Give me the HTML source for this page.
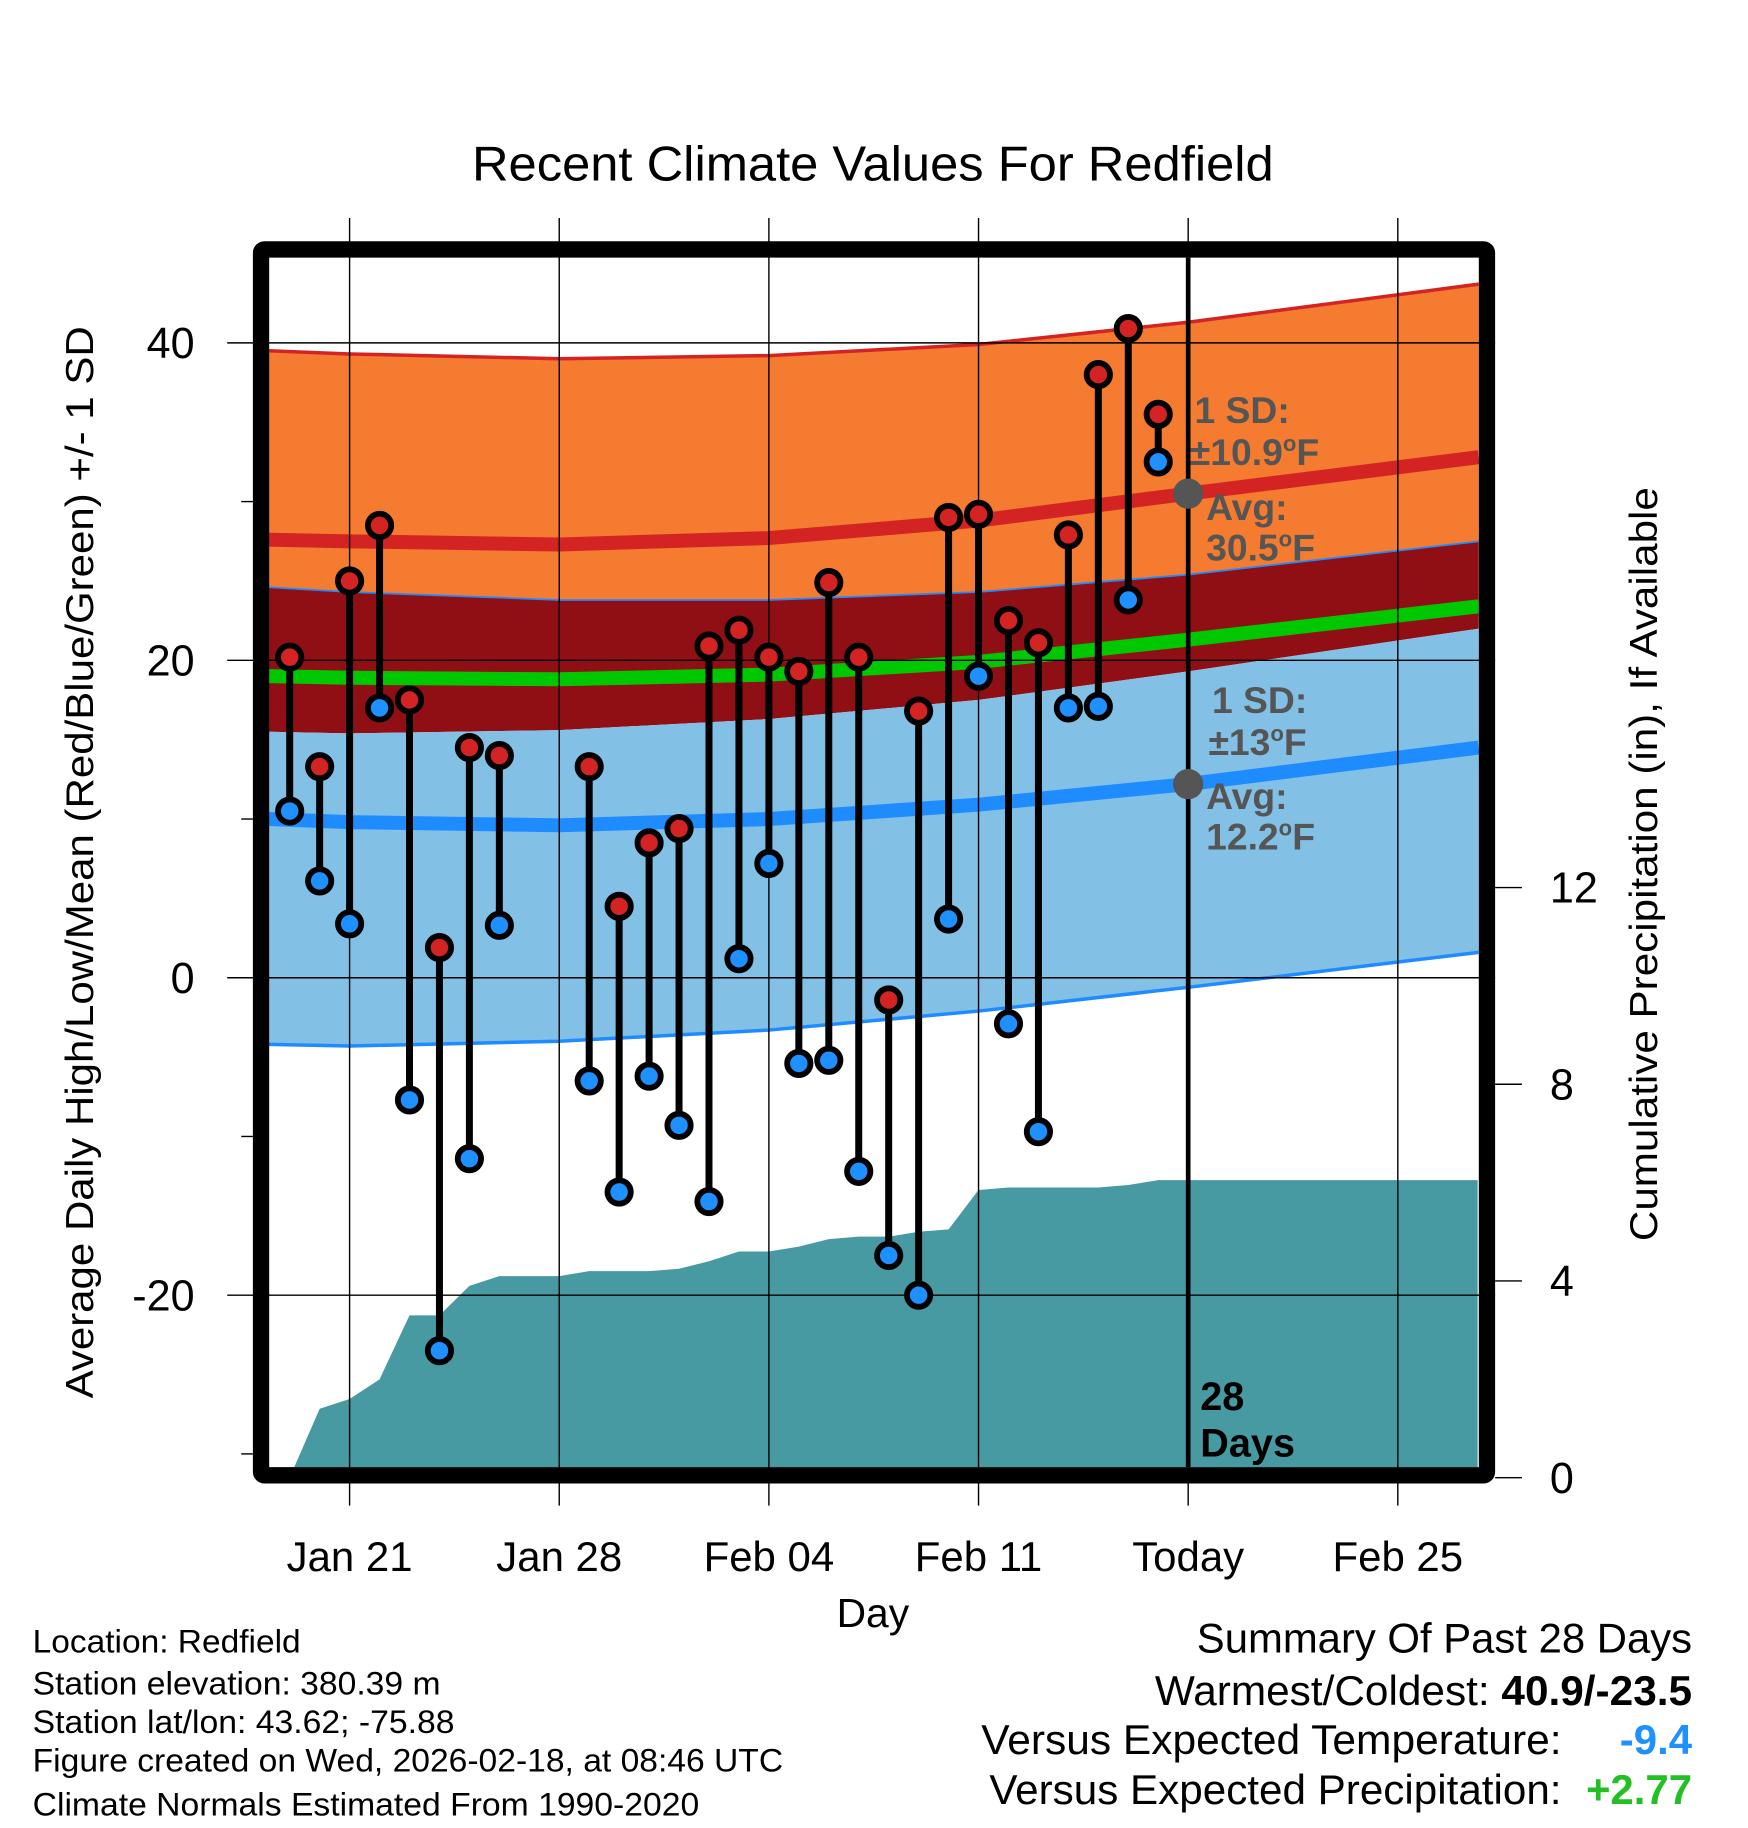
<!DOCTYPE html>
<html><head><meta charset="utf-8"><style>
html,body{margin:0;padding:0;background:#fff}
svg{display:block;font-family:"Liberation Sans",Arial,sans-serif}
</style></head><body>
<svg id="c" width="1748" height="1828" viewBox="0 0 1500 1568.6" xmlns="http://www.w3.org/2000/svg">
<text x="405" y="155" font-size="42" textLength="688" lengthAdjust="spacingAndGlyphs">Recent Climate Values For Redfield</text>
<g id="plot"></g>
<text transform="translate(80,1200) rotate(-90)" font-size="33" textLength="920" lengthAdjust="spacingAndGlyphs">Average Daily High/Low/Mean (Red/Blue/Green) +/- 1 SD</text>
<text transform="translate(1422,1065) rotate(-90)" font-size="33" textLength="647" lengthAdjust="spacingAndGlyphs">Cumulative Precipitation (in), If Available</text>
<text x="749" y="1396" font-size="35" text-anchor="middle">Day</text>
<g font-size="28" lengthAdjust="spacingAndGlyphs">
<text x="28" y="1418" textLength="230" lengthAdjust="spacingAndGlyphs">Location: Redfield</text>
<text x="28" y="1454" textLength="350" lengthAdjust="spacingAndGlyphs">Station elevation: 380.39 m</text>
<text x="28" y="1487" textLength="362" lengthAdjust="spacingAndGlyphs">Station lat/lon: 43.62; -75.88</text>
<text x="28" y="1520" textLength="644" lengthAdjust="spacingAndGlyphs">Figure created on Wed, 2026-02-18, at 08:46 UTC</text>
<text x="28" y="1558" textLength="572" lengthAdjust="spacingAndGlyphs">Climate Normals Estimated From 1990-2020</text>
</g>
<g font-size="36">
<text x="1027" y="1418" textLength="425" lengthAdjust="spacingAndGlyphs">Summary Of Past 28 Days</text>
<text x="991" y="1463" textLength="461" lengthAdjust="spacingAndGlyphs">Warmest/Coldest: <tspan font-weight="bold">40.9/-23.5</tspan></text>
<text x="842" y="1505" textLength="498" lengthAdjust="spacingAndGlyphs">Versus Expected Temperature:</text>
<text x="1452" y="1505" text-anchor="end" fill="#1e90ff" font-weight="bold">-9.4</text>
<text x="849" y="1548" textLength="491" lengthAdjust="spacingAndGlyphs">Versus Expected Precipitation:</text>
<text x="1452" y="1548" text-anchor="end" fill="#22c022" font-weight="bold">+2.77</text>
</g>
</svg>
<script>
const days=[-2,-1,0,1,2,3,4,5,8,9,10,11,12,13,14,15,16,17,18,19,20,21,22,23,24,25,26,27];
const highs=[20.2,13.3,25,28.5,17.5,1.9,14.5,14,13.3,4.5,8.5,9.4,20.9,21.9,20.2,19.3,24.9,20.2,-1.4,16.8,29,29.2,22.5,21.1,27.9,38,40.9,35.5];
const lows=[10.5,6.1,3.4,17,-7.7,-23.5,-11.4,3.3,-6.5,-13.5,-6.2,-9.3,-14.1,1.2,7.2,-5.4,-5.2,-12.2,-17.5,-20,3.7,19,-2.9,-9.7,17,17.1,23.8,32.5];
const pDays=[-2,-1,0,1,2,3,4,5,6,7,8,9,10,11,12,13,14,15,16,17,18,19,20,21,22,23,24,25,26,27,37.7];
const precip=[0,1.4,1.6,2.0,3.3,3.3,3.9,4.1,4.1,4.1,4.2,4.2,4.2,4.25,4.4,4.6,4.6,4.7,4.85,4.9,4.9,5.0,5.05,5.85,5.9,5.9,5.9,5.9,5.95,6.05,6.05];
const nDays=[-2.7,0,7,14,21,28,37.7];
const nTop=[39.5,39.3,39.0,39.2,39.9,41.3,43.7];
const nAvgHi=[27.6,27.5,27.3,27.7,28.8,30.5,32.8];
const nHiLow=[24.6,24.3,23.8,23.8,24.3,25.4,27.5];
const nMean=[19.0,18.9,18.8,19.1,19.9,21.3,23.4];
const nLoTop=[15.5,15.4,15.6,16.3,17.5,19.3,22.0];
const nAvgLo=[10.0,9.8,9.6,10.0,10.9,12.2,14.5];
const nBottom=[-4.2,-4.3,-4.0,-3.3,-2.1,-0.6,1.6];
const xTickDays=[0,7,14,21,28,35];
const xTickLabels=["Jan 21","Jan 28","Feb 04","Feb 11","Today","Feb 25"];
const yTicks=[40,20,0,-20];
const yMinor=[30,10,-10,-30];
const y2Ticks=[0,4,8,12];

const X=d=>300+25.7*d;
const Y=v=>839-13.62*v;
const Y2=p=>1268-42.2*p;
const NS="http://www.w3.org/2000/svg";
const g=document.getElementById('plot');
function mk(t,a,parent){const e=document.createElementNS(NS,t);for(const k in a)e.setAttribute(k,a[k]);(parent||g).appendChild(e);return e;}
const line=(arr)=>nDays.map((d,i)=>X(d).toFixed(1)+','+Y(arr[i]).toFixed(1));
function band(a,b){return 'M'+line(a).join('L')+'L'+line(b).reverse().join('L')+'Z';}

let e;
e=mk('rect',{x:231,y:221,width:1037,height:1038,fill:'#fff'});


e=mk('path',{d:band(nTop,nHiLow),fill:'#f47b2f'});


e=mk('path',{d:band(nHiLow,nLoTop),fill:'#8f0f15'});


e=mk('path',{d:band(nLoTop,nBottom),fill:'#82c0e6'});


e=mk('polyline',{points:line(nTop).join(' '),fill:'none',stroke:'#d42323','stroke-width':3});


e=mk('polyline',{points:line(nHiLow).join(' '),fill:'none',stroke:'#1e8cff','stroke-width':1.5});


e=mk('polyline',{points:line(nBottom).join(' '),fill:'none',stroke:'#1e8cff','stroke-width':3});


e=mk('polyline',{points:line(nAvgHi).join(' '),fill:'none',stroke:'#d42323','stroke-width':12});


e=mk('polyline',{points:line(nMean).join(' '),fill:'none',stroke:'#00c800','stroke-width':12});


e=mk('polyline',{points:line(nAvgLo).join(' '),fill:'none',stroke:'#1e8cff','stroke-width':12});


// precipitation
let pd='M'+X(pDays[0])+','+Y2(0);
pDays.forEach((d,i)=>{pd+='L'+Math.min(X(d),1268).toFixed(1)+','+Y2(precip[i]).toFixed(1);});
pd+='L1268,1259L'+X(pDays[0])+',1259Z';
e=mk('path',{d:pd,fill:'#4799a2'});


// grid
xTickDays.forEach((d,i)=>{
  e=mk('line',{x1:X(d),x2:X(d),y1:187,y2:1292,stroke:'#000','stroke-width':1.2});
  
  
  e=mk('text',{x:X(d),y:1348,'font-size':36,'text-anchor':'middle'});
  e.textContent=xTickLabels[i];
  
  
});
yTicks.forEach(v=>{
  e=mk('line',{x1:195,x2:1283,y1:Y(v),y2:Y(v),stroke:'#000','stroke-width':1.2});
  
  
  e=mk('text',{x:167,y:Y(v)+13,'font-size':37,'text-anchor':'end'});
  e.textContent=v;
  
  
});
yMinor.forEach(v=>{
  e=mk('line',{x1:207,x2:217,y1:Y(v),y2:Y(v),stroke:'#000','stroke-width':1.2});
  
  
});
y2Ticks.forEach(p=>{
  e=mk('line',{x1:1283,x2:1306,y1:Y2(p),y2:Y2(p),stroke:'#000','stroke-width':1.2});
  
  
  e=mk('text',{x:1330,y:Y2(p)+13,'font-size':37});
  e.textContent=p;
  
  
});
// today line
e=mk('line',{x1:X(28),x2:X(28),y1:221,y2:1259,stroke:'#000','stroke-width':4});


// stems and dots
days.forEach((d,i)=>{
  e=mk('line',{x1:X(d),x2:X(d),y1:Y(highs[i]),y2:Y(lows[i]),stroke:'#000','stroke-width':6});
  
  
});
days.forEach((d,i)=>{
  e=mk('circle',{cx:X(d),cy:Y(highs[i]),r:10,fill:'#d42323',stroke:'#000','stroke-width':5});
  
  
  e=mk('circle',{cx:X(d),cy:Y(lows[i]),r:10,fill:'#1e90ff',stroke:'#000','stroke-width':5});
  
  
});
// avg markers
e=mk('circle',{cx:X(28),cy:Y(30.5),r:13,fill:'#555'});


e=mk('circle',{cx:X(28),cy:Y(12.2),r:13,fill:'#555'});


// annotations
const ann=[[1025,363,"1 SD:"],[1021,399,"±10.9<tspan dy='-12' font-size='19'>o</tspan><tspan dy='12'>F</tspan>"],[1035,446,"Avg:"],[1035,481,"30.5<tspan dy='-12' font-size='19'>o</tspan><tspan dy='12'>F</tspan>"],
[1040,612,"1 SD:"],[1037,648,"±13<tspan dy='-12' font-size='19'>o</tspan><tspan dy='12'>F</tspan>"],[1035,694,"Avg:"],[1035,729,"12.2<tspan dy='-12' font-size='19'>o</tspan><tspan dy='12'>F</tspan>"]];
ann.forEach(a=>{
  e=mk('text',{x:a[0],y:a[1],'font-size':32,'font-weight':'bold',fill:'#555'});
  e.innerHTML=a[2];
  
  
});
e=mk('text',{x:1030,y:1210,'font-size':34,'font-weight':'bold'});e.textContent='28';


e=mk('text',{x:1030,y:1250,'font-size':34,'font-weight':'bold'});e.textContent='Days';


// frame
e=mk('rect',{x:224,y:214,width:1052,height:1052,fill:'none',stroke:'#000','stroke-width':14,rx:3});


</script>
</body></html>
